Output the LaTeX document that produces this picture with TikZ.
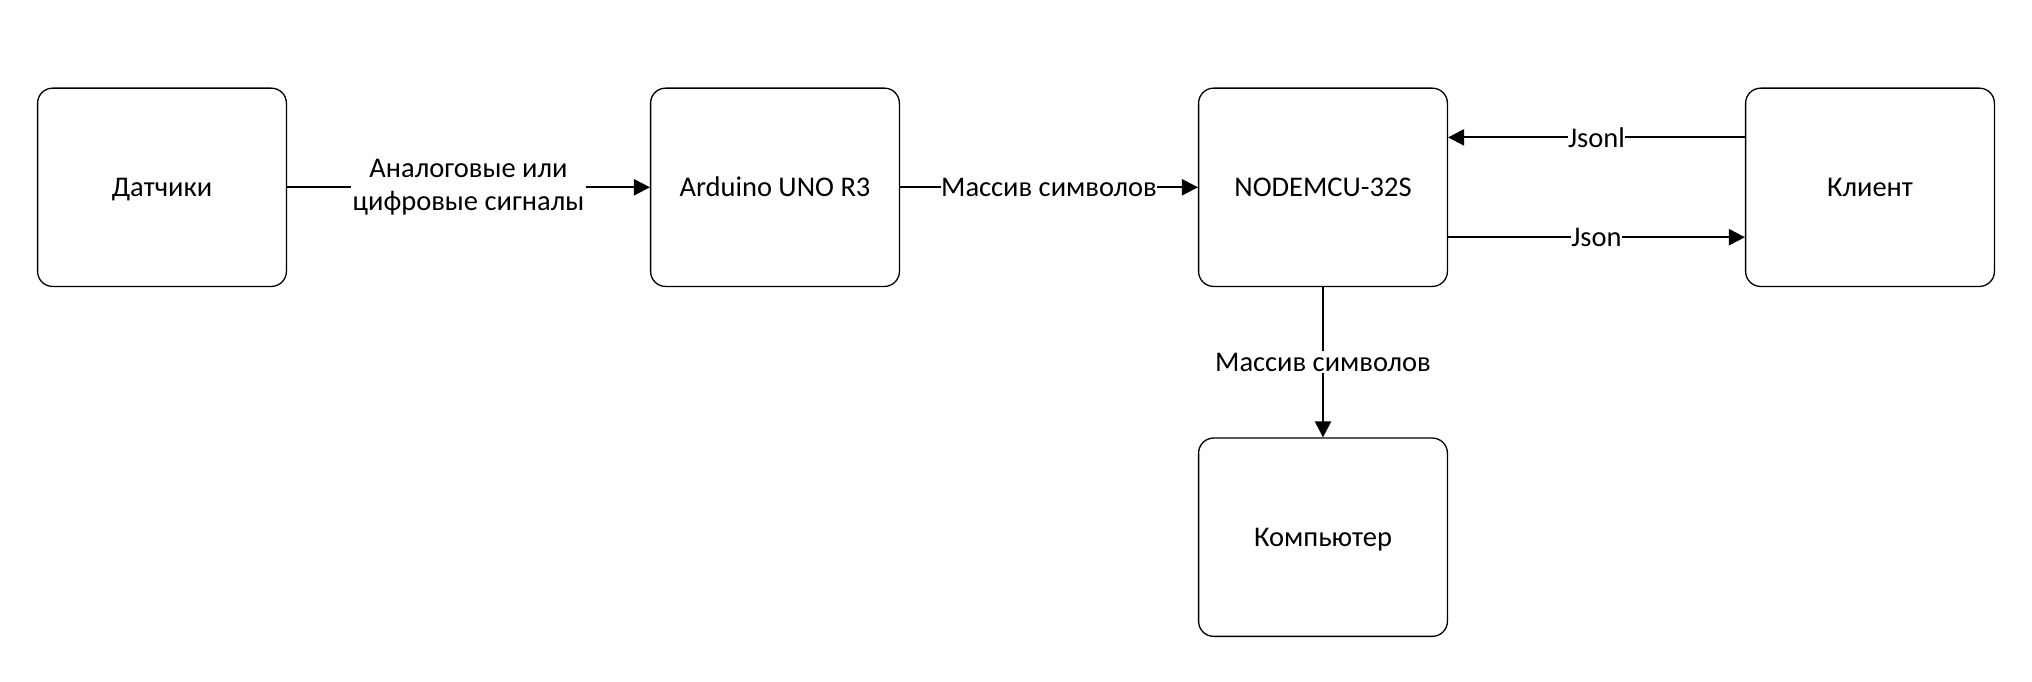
\documentclass[tikz,border=0pt]{standalone}
\usepackage{fontspec}
\setmainfont{Carlito}
\usetikzlibrary{arrows.meta}
\begin{document}
\begin{tikzpicture}[x=1pt,y=-1pt,
  blk/.style={draw=black, line width=1.3pt, rounded corners=15pt, minimum width=248.8pt, minimum height=198.3pt, align=center, font=\fontsize{28.5}{34}\selectfont, inner sep=0pt, text height=18pt, text depth=0pt},
  conn/.style={draw=black, line width=2.2pt, -{Triangle[length=16pt,width=16pt]}},
  lbl/.style={fill=white, font=\fontsize{28.5}{33.5}\selectfont, align=center, inner sep=2pt}
]
\useasboundingbox (0,0) rectangle (2032,682);
\node[blk] (dat) at (162,187.3) {Датчики};
\node[blk] (ard) at (775,187.3) {Arduino UNO R3};
\node[blk] (mcu) at (1323,187.3) {NODEMCU-32S};
\node[blk] (kli) at (1870,187.3) {Клиент};
\node[blk] (pc) at (1323,537.2) {Компьютер};
\draw[conn] (dat) -- node[lbl] {Аналоговые или\\цифровые сигналы} (ard);
\draw[conn] (ard) -- node[lbl, inner sep=0pt] {Массив символов} (mcu);
\draw[conn] (kli.west |- 0,137.4) -- node[lbl, inner sep=0pt] {Jsonl} (mcu.east |- 0,137.4);
\draw[conn] (mcu.east |- 0,237.2) -- node[lbl, inner sep=0pt] {Json} (kli.west |- 0,237.2);
\draw[conn] (mcu) -- node[lbl] {Массив символов} (pc);
\end{tikzpicture}
\end{document}
